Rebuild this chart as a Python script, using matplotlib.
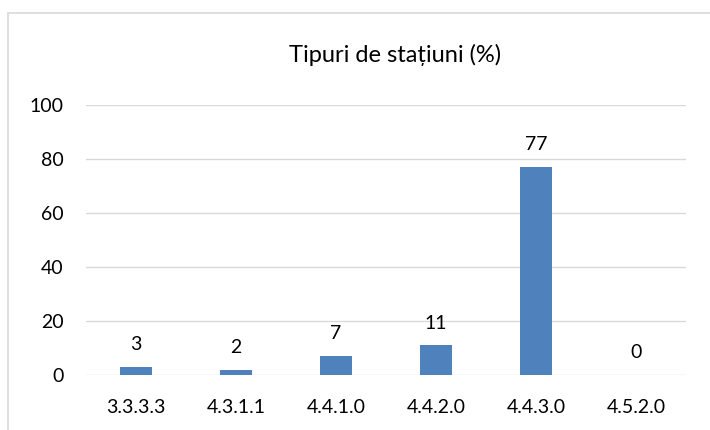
import matplotlib.pyplot as plt
from matplotlib.patches import Rectangle

# --- date ---
categories = ["3.3.3.3", "4.3.1.1", "4.4.1.0", "4.4.2.0", "4.4.3.0", "4.5.2.0"]
values = [3, 2, 7, 11, 77, 0]
y_ticks = [0, 20, 40, 60, 80, 100]
title = "Tipuri de stațiuni (%)"

plt.rcParams['font.family'] = ['Lato', 'DejaVu Sans']

fig = plt.figure(figsize=(7.1, 4.3), dpi=100)
ax = fig.add_axes([86 / 710, 1 - 375 / 430, 600 / 710, 270 / 430])

x = range(len(categories))
ax.bar(x, values, width=0.32, color='#4F81BD', zorder=3)

for xi, v in zip(x, values):
    ax.annotate(str(v), (xi, v), xytext=(0, 12), textcoords='offset points',
                ha='center', va='baseline', fontsize=14, color='#000000')

ax.set_xlim(-0.5, len(categories) - 0.5)
ax.set_ylim(0, 100)
ax.set_yticks(y_ticks)
ax.set_xticks(list(x))
ax.set_xticklabels(categories)
ax.tick_params(axis='both', length=0, labelsize=14, colors='#000000')
ax.tick_params(axis='y', pad=16)
ax.tick_params(axis='x', pad=17)
ax.grid(axis='y', color='#D9D9D9', linewidth=1, zorder=0)
for s in ax.spines.values():
    s.set_visible(False)

fig.text(395 / 710, 1 - 55 / 430, title, ha='center', va='center', fontsize=17)

# chenar
fig.patches.append(Rectangle((8 / 710, -0.1), 1.0, 1 - 13 / 430 + 0.1, transform=fig.transFigure,
                             fill=False, edgecolor='#D9D9D9', linewidth=1.2))

fig.savefig("out.png", dpi=100)
